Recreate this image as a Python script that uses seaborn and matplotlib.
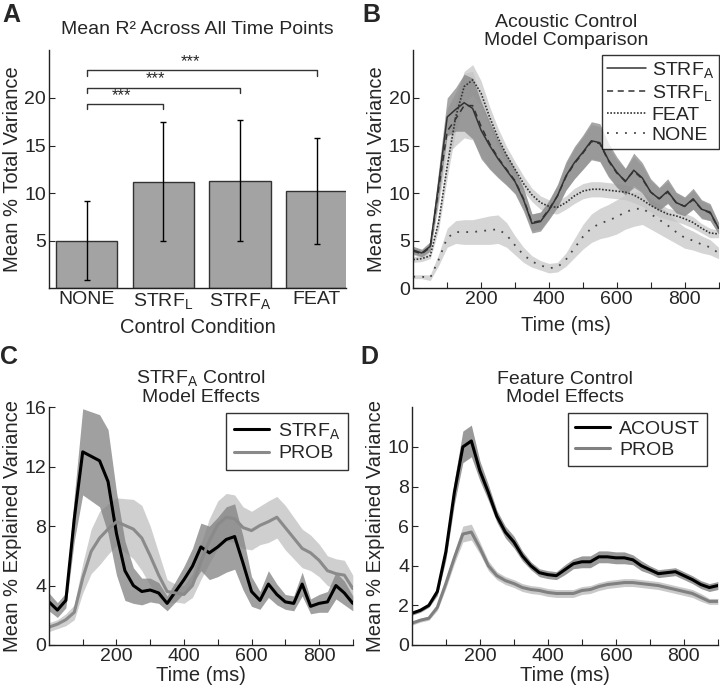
import numpy as np
import pandas as pd
import matplotlib
matplotlib.use('Agg')
import matplotlib.pyplot as plt
import seaborn as sns

# ---- panel A: bar data ----
conditions = ['NONE', 'STRF$_L$', 'STRF$_A$', 'FEAT']
bar_means = [5.0, 11.2, 11.3, 10.2]
bar_err = [4.15, 6.25, 6.35, 5.55]
bracket_pairs = [(0, 1), (0, 2), (0, 3)]
bracket_heights = [19.4, 21.1, 22.9]

# ---- time axis for the curves (ms) ----
time = np.arange(0, 901, 25)

# ---- panel B: acoustic control model comparison ----
b_strfa = [4.0, 3.7, 4.4, 11.0, 18.0, 18.8, 19.5, 18.9, 16.6, 15.0, 13.6, 12.4, 11.2,
           9.3, 6.8, 7.0, 8.2, 9.7, 11.8, 13.2, 14.3, 15.5, 15.3, 13.5, 12.2, 11.2,
           12.4, 11.6, 10.1, 9.4, 10.2, 9.0, 8.6, 9.4, 8.3, 8.0, 6.3]
b_strfa_se = [0.4, 0.4, 0.5, 1.5, 2.0, 2.3, 3.0, 3.2, 3.0, 2.5, 2.0, 1.6, 1.3,
              1.2, 1.0, 1.0, 1.0, 1.2, 1.5, 1.7, 1.8, 2.0, 2.0, 1.8, 1.6, 1.4,
              1.8, 1.6, 1.4, 1.2, 1.3, 1.1, 1.0, 1.1, 1.0, 0.9, 0.6]
b_strfl = [3.9, 3.6, 4.3, 10.5, 16.5, 17.8, 19.2, 19.2, 17.0, 15.2, 13.7, 12.5, 11.3,
           9.4, 6.9, 7.1, 8.3, 9.7, 11.7, 13.1, 14.2, 15.4, 15.2, 13.4, 12.1, 11.3,
           12.3, 11.5, 10.1, 9.4, 10.1, 9.0, 8.6, 9.3, 8.3, 7.9, 6.3]
b_strfl_se = [0.4, 0.4, 0.5, 1.6, 2.4, 2.8, 3.4, 3.6, 3.2, 2.6, 2.0, 1.6, 1.3,
              1.1, 0.9, 0.9, 1.0, 1.1, 1.4, 1.6, 1.7, 1.8, 1.8, 1.6, 1.4, 1.3,
              1.5, 1.4, 1.2, 1.1, 1.1, 1.0, 0.9, 1.0, 0.9, 0.8, 0.6]
b_feat = [3.0, 3.1, 3.4, 7.0, 12.8, 18.0, 21.2, 21.9, 20.5, 18.0, 15.8, 14.0, 12.5,
          11.0, 9.8, 9.0, 8.6, 8.5, 9.0, 9.7, 10.2, 10.4, 10.4, 10.3, 10.2, 10.1,
          9.8, 9.3, 8.7, 8.2, 7.8, 7.6, 7.3, 6.9, 6.3, 5.8, 5.7]
b_feat_se = [0.3, 0.3, 0.3, 0.8, 1.2, 1.5, 1.6, 1.6, 1.3, 1.1, 1.0, 0.9, 0.8,
             0.8, 0.7, 0.7, 0.7, 0.7, 0.7, 0.8, 0.8, 0.8, 0.8, 0.8, 0.8, 0.8,
             0.8, 0.7, 0.7, 0.7, 0.6, 0.6, 0.6, 0.6, 0.5, 0.5, 0.4]
b_none = [1.2, 1.2, 1.1, 3.0, 5.3, 5.9, 5.9, 5.9, 6.0, 6.1, 6.2, 5.6, 4.5,
          3.5, 2.8, 2.4, 2.1, 2.2, 3.0, 4.2, 5.4, 6.3, 6.8, 7.1, 7.5, 8.0,
          8.3, 8.4, 7.8, 7.2, 6.6, 5.9, 5.3, 5.0, 4.6, 4.3, 3.7]
b_none_se = [0.2, 0.2, 0.3, 0.6, 1.0, 1.2, 1.3, 1.3, 1.4, 1.5, 1.5, 1.3, 1.0,
             0.8, 0.6, 0.5, 0.5, 0.5, 0.7, 1.0, 1.3, 1.5, 1.6, 1.7, 1.8, 1.8,
             1.8, 1.7, 1.6, 1.5, 1.4, 1.2, 1.1, 1.0, 0.9, 0.8, 0.6]

# ---- panel C: STRF_A control model effects ----
c_strfa = [2.9, 2.35, 3.0, 8.5, 13.0, 12.7, 12.4, 11.0, 7.5, 5.0, 4.0, 3.6, 3.7,
           3.5, 2.8, 3.6, 4.4, 5.3, 6.6, 6.2, 6.6, 7.1, 7.3, 5.5, 3.6, 3.0,
           4.1, 3.4, 2.9, 2.8, 4.1, 2.6, 2.8, 2.9, 4.0, 3.5, 2.8]
c_strfa_se = [0.6, 0.5, 0.5, 1.5, 2.9, 3.0, 3.1, 3.5, 2.8, 2.0, 1.2, 0.9, 0.8,
              0.7, 0.5, 0.7, 0.9, 1.2, 1.6, 1.8, 2.0, 2.2, 2.2, 1.8, 1.0, 0.6,
              0.9, 0.7, 0.5, 0.5, 0.8, 0.5, 0.6, 0.7, 0.9, 0.8, 0.5]
c_prob = [1.2, 1.4, 1.7, 2.2, 4.5, 6.3, 7.2, 7.8, 8.3, 8.05, 7.8, 7.2, 6.0,
          4.7, 3.6, 3.5, 3.4, 4.0, 5.6, 7.0, 8.1, 8.6, 8.5, 7.9, 7.7, 8.05,
          8.3, 8.6, 7.9, 7.2, 6.5, 6.2, 5.7, 5.0, 4.8, 4.7, 3.8]
c_prob_se = [0.3, 0.3, 0.4, 0.5, 1.0, 1.5, 1.8, 1.7, 1.6, 1.8, 2.0, 2.2, 2.0,
             1.5, 0.8, 0.6, 0.6, 0.8, 1.2, 1.5, 1.6, 1.6, 1.6, 1.4, 1.3, 1.3,
             1.4, 1.4, 1.5, 1.4, 1.3, 1.2, 1.1, 1.0, 1.0, 1.0, 0.9]

# ---- panel D: feature control model effects ----
d_acoust = [1.6, 1.75, 2.0, 2.7, 4.7, 7.7, 10.0, 10.3, 8.8, 7.7, 6.5, 5.7, 5.2,
            4.5, 4.0, 3.65, 3.55, 3.5, 3.8, 4.1, 4.2, 4.2, 4.45, 4.45, 4.4, 4.4,
            4.3, 4.0, 3.8, 3.6, 3.65, 3.7, 3.5, 3.3, 3.05, 2.9, 3.0]
d_acoust_se = [0.1, 0.1, 0.1, 0.2, 0.4, 0.6, 0.8, 0.8, 0.5, 0.4, 0.3, 0.3, 0.3,
               0.25, 0.2, 0.2, 0.2, 0.2, 0.25, 0.25, 0.3, 0.3, 0.3, 0.3, 0.3, 0.3,
               0.25, 0.25, 0.2, 0.2, 0.2, 0.2, 0.2, 0.2, 0.2, 0.2, 0.2]
d_prob = [1.1, 1.25, 1.35, 1.9, 3.1, 4.4, 5.6, 5.7, 4.9, 4.0, 3.5, 3.25, 3.1,
          2.9, 2.8, 2.75, 2.65, 2.6, 2.6, 2.6, 2.75, 2.8, 2.95, 3.05, 3.1, 3.15,
          3.15, 3.1, 3.05, 3.0, 2.9, 2.8, 2.7, 2.6, 2.4, 2.2, 2.2]
d_prob_se = [0.1, 0.1, 0.1, 0.15, 0.25, 0.3, 0.4, 0.4, 0.3, 0.25, 0.2, 0.2, 0.2,
             0.2, 0.2, 0.2, 0.2, 0.2, 0.2, 0.2, 0.2, 0.2, 0.2, 0.2, 0.2, 0.2,
             0.2, 0.2, 0.2, 0.2, 0.2, 0.2, 0.2, 0.2, 0.2, 0.15, 0.15]

sns.set_style('ticks')
plt.rcParams['font.family'] = ['Liberation Sans', 'DejaVu Sans']
plt.rcParams['mathtext.default'] = 'regular'
plt.rcParams['xtick.direction'] = 'in'
plt.rcParams['ytick.direction'] = 'in'
plt.rcParams['axes.edgecolor'] = '#222222'
plt.rcParams['axes.linewidth'] = 1.0

FS = 14          # tick labels / legend
LFS = 14.5       # axis labels
TFS = 14         # titles
DARK_BAND = '#808080'
LIGHT_BAND = '#c4c4c4'

fig = plt.figure(figsize=(7.2, 6.91), dpi=100)
ax_a = fig.add_axes([0.068, 0.583, 0.4125, 0.344])
ax_b = fig.add_axes([0.574, 0.583, 0.424, 0.344])
ax_c = fig.add_axes([0.068, 0.0666, 0.422, 0.344])
ax_d = fig.add_axes([0.572, 0.0666, 0.425, 0.344])


def style_axes(ax):
    sns.despine(ax=ax)
    ax.tick_params(labelsize=FS, length=4, width=0.8, pad=2)


def time_ticks(ax, pad):
    ax.set_xticks(range(100, 901, 100))
    ax.set_xticklabels(['' if t % 200 else str(t) for t in range(100, 901, 100)])
    ax.set_xlabel('Time (ms)', fontsize=LFS, labelpad=pad)


def box_legend(ax, anchor, **kw):
    leg = ax.legend(loc='upper right', bbox_to_anchor=anchor, borderaxespad=0,
                    fontsize=FS, frameon=True, fancybox=False, **kw)
    leg.get_frame().set_edgecolor('black')
    leg.get_frame().set_linewidth(1)


# A: bars
df_a = pd.DataFrame({'cond': conditions, 'val': bar_means})
sns.barplot(data=df_a, x='cond', y='val', color='#a3a3a3', saturation=1,
            edgecolor='#333333', linewidth=1, width=0.8, ax=ax_a)
ax_a.errorbar(range(len(conditions)), bar_means, yerr=bar_err, fmt='none',
              ecolor='black', elinewidth=1, capsize=2.5, capthick=1)
for (i, j), h in zip(bracket_pairs, bracket_heights):
    ax_a.plot([i, i, j, j], [h - 0.6, h, h, h - 0.6], color='#333333', lw=1)
    ax_a.text((i + j) / 2 - 0.05 * (j - i), h + 0.1, '***', ha='center', va='bottom',
              fontsize=12)
ax_a.set_xlim(-0.49, 3.38)
ax_a.set_ylim(0, 25)
ax_a.set_yticks([5, 10, 15, 20])
ax_a.set_xlabel('Control Condition', fontsize=LFS, labelpad=5)
ax_a.set_ylabel('Mean % Total Variance', fontsize=LFS, labelpad=2)
ax_a.set_title('Mean R² Across All Time Points', fontsize=TFS, pad=12)
style_axes(ax_a)
ax_a.tick_params(axis='x', length=0)

# B: four models
df_b = pd.DataFrame({'time': time, 'STRFA': b_strfa, 'STRFL': b_strfl,
                     'FEAT': b_feat, 'NONE': b_none})
for col, se, band in [('NONE', b_none_se, LIGHT_BAND), ('FEAT', b_feat_se, LIGHT_BAND),
                      ('STRFL', b_strfl_se, LIGHT_BAND), ('STRFA', b_strfa_se, DARK_BAND)]:
    v = df_b[col].to_numpy()
    ax_b.fill_between(time, v - np.array(se), v + np.array(se), color=band,
                      alpha=0.7, lw=0)
sns.lineplot(data=df_b, x='time', y='STRFA', color='#333333', lw=1.1, ax=ax_b,
             label='STRF$_A$')
sns.lineplot(data=df_b, x='time', y='STRFL', color='#333333', lw=1.1, ax=ax_b,
             label='STRF$_L$', linestyle=(0, (4, 3)))
sns.lineplot(data=df_b, x='time', y='FEAT', color='#333333', lw=1.2, ax=ax_b,
             label='FEAT', linestyle=(0, (1, 1)))
sns.lineplot(data=df_b, x='time', y='NONE', color='#444444', lw=1.3, ax=ax_b,
             label='NONE', linestyle=(0, (1, 4)))
ax_b.set_xlim(0, 900)
ax_b.set_ylim(0, 25)
ax_b.set_yticks([0, 5, 10, 15, 20])
time_ticks(ax_b, 6)
ax_b.set_ylabel('Mean % Total Variance', fontsize=LFS, labelpad=2)
ax_b.set_title('Acoustic Control\nModel Comparison', fontsize=TFS, pad=4, linespacing=1.05)
box_legend(ax_b, (1.0, 0.98), handlelength=2.0, labelspacing=0.15,
           handletextpad=0.3, borderpad=0.25)
style_axes(ax_b)

# C: STRF_A control
df_c = pd.DataFrame({'time': time, 'STRFA': c_strfa, 'PROB': c_prob})
ax_c.fill_between(time, np.array(c_prob) - c_prob_se, np.array(c_prob) + c_prob_se,
                  color=LIGHT_BAND, alpha=0.8, lw=0)
ax_c.fill_between(time, np.array(c_strfa) - c_strfa_se, np.array(c_strfa) + c_strfa_se,
                  color=DARK_BAND, alpha=0.75, lw=0)
sns.lineplot(data=df_c, x='time', y='STRFA', color='black', lw=2.2, ax=ax_c,
             label='STRF$_A$')
sns.lineplot(data=df_c, x='time', y='PROB', color='#8a8a8a', lw=2.2, ax=ax_c,
             label='PROB')
ax_c.set_xlim(0, 900)
ax_c.set_ylim(0, 16)
ax_c.set_yticks([0, 4, 8, 12, 16])
time_ticks(ax_c, 1)
ax_c.set_ylabel('Mean % Explained Variance', fontsize=LFS, labelpad=2)
ax_c.set_title('STRF$_A$ Control\nModel Effects', fontsize=TFS, pad=4, linespacing=1.05)
box_legend(ax_c, (0.985, 0.975), handlelength=1.8, labelspacing=0.2,
           handletextpad=0.5, borderpad=0.4)
style_axes(ax_c)

# D: feature control
df_d = pd.DataFrame({'time': time, 'ACOUST': d_acoust, 'PROB': d_prob})
ax_d.fill_between(time, np.array(d_prob) - d_prob_se, np.array(d_prob) + d_prob_se,
                  color=LIGHT_BAND, alpha=0.9, lw=0)
ax_d.fill_between(time, np.array(d_acoust) - d_acoust_se, np.array(d_acoust) + d_acoust_se,
                  color=DARK_BAND, alpha=0.8, lw=0)
sns.lineplot(data=df_d, x='time', y='ACOUST', color='black', lw=2.2, ax=ax_d,
             label='ACOUST')
sns.lineplot(data=df_d, x='time', y='PROB', color='#808080', lw=2.2, ax=ax_d,
             label='PROB')
ax_d.set_xlim(0, 900)
ax_d.set_ylim(0, 12)
ax_d.set_yticks([0, 2, 4, 6, 8, 10])
time_ticks(ax_d, 1)
ax_d.set_ylabel('Mean % Explained Variance', fontsize=LFS, labelpad=2)
ax_d.set_title('Feature Control\nModel Effects', fontsize=TFS, pad=4, linespacing=1.05)
box_legend(ax_d, (0.965, 0.975), handlelength=1.8, labelspacing=0.2,
           handletextpad=0.5, borderpad=0.35)
style_axes(ax_d)

# panel letters
for letter, x, y in [('A', 0.003, 0.995), ('B', 0.503, 0.995),
                     ('C', 0.0, 0.5), ('D', 0.5, 0.5)]:
    fig.text(x, y, letter, fontsize=18, fontweight='bold', ha='left', va='top')

fig.savefig('out.png', dpi=100)
